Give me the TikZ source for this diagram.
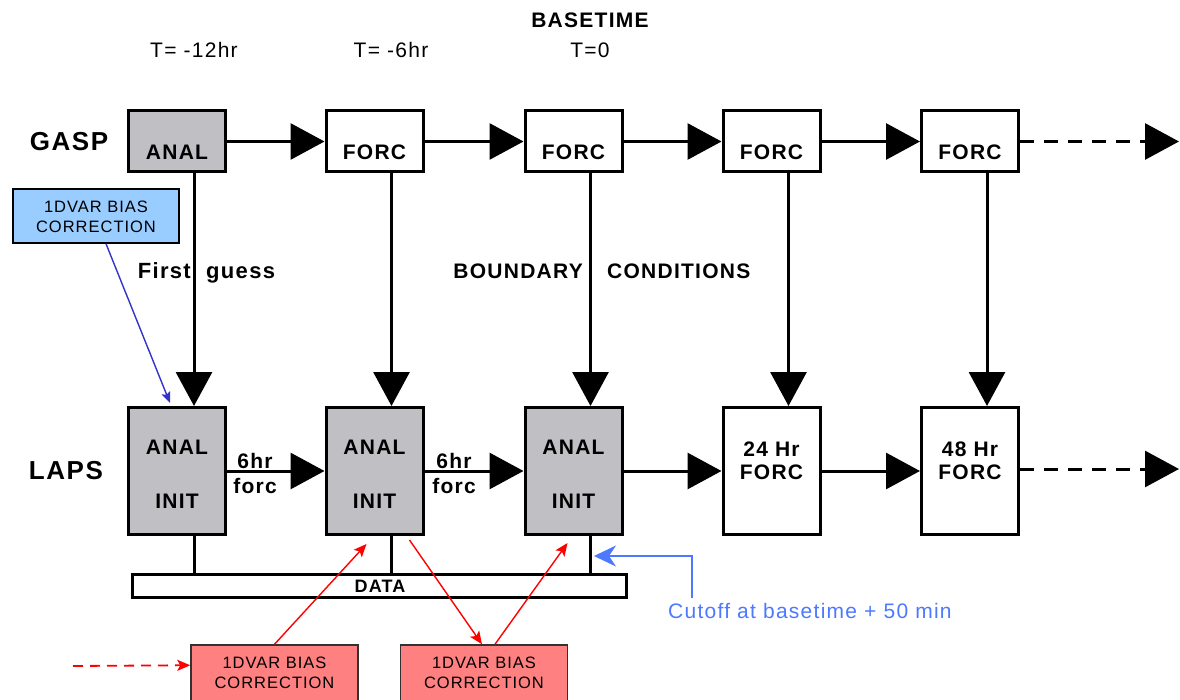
\documentclass[tikz,border=0pt]{standalone}
\usepackage{fontspec}
\setmainfont{Liberation Sans}[LetterSpace=6]
\usetikzlibrary{arrows.meta,calc}
\definecolor{boxgray}{RGB}{192,192,196}
\definecolor{lblue}{RGB}{153,204,255}
\definecolor{lred}{RGB}{255,128,128}
\definecolor{dblue}{RGB}{51,51,204}
\definecolor{cblue}{RGB}{77,121,255}
\definecolor{rborder}{RGB}{50,50,50}
\tikzset{
  gbox/.style={draw=black, line width=3pt, minimum width=97pt, minimum height=61pt, inner sep=0pt},
  lbox/.style={draw=black, line width=3pt, minimum width=97pt, minimum height=127pt, inner sep=0pt},
  shade/.style={fill=boxgray},
  arr/.style={line width=3pt, -{Triangle[length=34pt,width=36pt]}},
  darr/.style={arr, dash pattern=on 14pt off 10pt},
  plain/.style={line width=3pt},
  btext/.style={font=\fontsize{21}{23}\selectfont\bfseries, inner sep=0pt},
  rtext/.style={font=\fontsize{21}{23}\selectfont, inner sep=0pt},
  bigtext/.style={font=\fontsize{26}{28}\selectfont\bfseries, inner sep=0pt},
  smalltext/.style={font=\fontsize{16.5}{20}\selectfont, inner sep=0pt, align=center},
  biasbox/.style={draw=rborder, line width=1.5pt, minimum width=167pt, inner sep=0pt},
  redarr/.style={draw=red, line width=1.4pt, -{Stealth[length=13pt,width=11pt,inset=3pt]}},
  bluearr/.style={draw=dblue, line width=1.4pt, -{Stealth[length=11pt,width=9pt,inset=2pt]}},
  cutarr/.style={draw=cblue, line width=2pt, -{Stealth[length=22pt,width=21pt,inset=7pt]}},
}
\begin{document}
\begin{tikzpicture}[x=1pt,y=-1pt]
\fill[white] (0,0) rectangle (1180,700);
\useasboundingbox (0,0) rectangle (1180,700);

% top labels
\node[btext] (bt) at (590,20) {BASETIME};
\node[rtext] (t12) at (194,50) {T= -12hr};
\node[rtext] (t6) at (391,50) {T= -6hr};
\node[rtext] (t0) at (590,50) {T=0};

% row labels
\node[bigtext] (gasp) at (69,142) {GASP};
\node[bigtext] (laps) at (66,471) {LAPS};

% GASP row
\node[gbox,shade] (g1) at (177,141.5) {};
\node[gbox] (g2) at (374.5,141.5) {};
\node[gbox] (g3) at (573.5,141.5) {};
\node[gbox] (g4) at (771.5,141.5) {};
\node[gbox] (g5) at (970,141.5) {};
\node[btext] (g1t) at (177,152) {ANAL};
\node[btext] (g2t) at (374.5,152) {FORC};
\node[btext] (g3t) at (573.5,152) {FORC};
\node[btext] (g4t) at (771.5,152) {FORC};
\node[btext] (g5t) at (970,152) {FORC};

% LAPS row
\node[lbox,shade] (l1) at (177,471) {};
\node[lbox,shade] (l2) at (374.5,471) {};
\node[lbox,shade] (l3) at (573.5,471) {};
\node[lbox] (l4) at (771.5,471) {};
\node[lbox] (l5) at (970,471) {};
\node[btext] (l1a) at (177,447) {ANAL};
\node[btext] (l1b) at (177,501) {INIT};
\node[btext] (l2a) at (374.5,447) {ANAL};
\node[btext] (l2b) at (374.5,501) {INIT};
\node[btext] (l3a) at (573.5,447) {ANAL};
\node[btext] (l3b) at (573.5,501) {INIT};
\node[btext, align=center] (l4t) at (771.5,461) {24 Hr\\FORC};
\node[btext, align=center] (l5t) at (970,461) {48 Hr\\FORC};

% GASP horizontal arrows
\draw[arr] (g1.east) -- (g2.west);
\draw[arr] (g2.east) -- (g3.west);
\draw[arr] (g3.east) -- (g4.west);
\draw[arr] (g4.east) -- (g5.west);
\coordinate (gend) at (1179,141.5);
\draw[darr] (g5.east) -- (gend);

% LAPS horizontal arrows
\draw[arr] (l1.east) -- (l2.west);
\draw[arr] (l2.east) -- (l3.west);
\draw[arr] (l3.east) -- (l4.west);
\draw[arr] (l4.east) -- (l5.west);
\coordinate (lend) at (1179,469);
\draw[darr] (l5.east |- lend) -- (lend);

\node[btext] (f1a) at (255,461) {6hr};
\node[btext] (f1b) at (255,486) {forc};
\node[btext] (f2a) at (454,461) {6hr};
\node[btext] (f2b) at (454,486) {forc};

% vertical arrows
\foreach \i in {1,...,5}{
  \draw[arr] ($(g\i.south west)+(67,0)$) -- ($(l\i.north west)+(67,0)$);
}

% labels on verticals
\node[btext, anchor=base east, font=\fontsize{22}{24}\selectfont\bfseries] (fg1) at (191,279) {First};
\node[btext, anchor=base west, font=\fontsize{22}{24}\selectfont\bfseries] (fg2) at (206,279) {guess};
\node[btext, anchor=base east] (bc1) at (583,278.5) {BOUNDARY};
\node[btext, anchor=base west] (bc2) at (607,278.5) {CONDITIONS};

% DATA bar
\node[draw=black, line width=3pt, minimum width=494pt, minimum height=23pt, inner sep=0pt] (data) at (379.5,586) {};
\node[btext, font=\fontsize{18}{20}\selectfont\bfseries] (datat) at (380,586.5) {DATA};
\coordinate (l1d) at ($(l1.south west)+(67,0)$);
\coordinate (l2d) at ($(l2.south west)+(67,0)$);
\coordinate (l3d) at ($(l3.south west)+(67,0)$);
\draw[plain] (l1d) -- (l1d |- data.north);
\draw[plain] (l2d) -- (l2d |- data.north);
\draw[plain] (l3d) -- (l3d |- data.north);

% blue bias box
\node[draw=black, line width=1.5pt, fill=lblue, minimum width=166pt, minimum height=54pt, inner sep=0pt] (bb) at (96,216) {};
\node[smalltext] (bbt) at (96,217) {1DVAR BIAS\\CORRECTION};
\draw[bluearr] ($(bb.south)+(10,0)$) -- ($(l1.north west)+(43,-3)$);

% red bias boxes
\node[biasbox, fill=lred, minimum height=70pt] (ra) at (274.5,680) {};
\node[smalltext] (rat) at (274.5,673) {1DVAR BIAS\\CORRECTION};
\node[biasbox, fill=lred, minimum height=70pt] (rb) at (484,680) {};
\node[smalltext] (rbt) at (484,673) {1DVAR BIAS\\CORRECTION};

\coordinate (din) at (73,666);
\draw[redarr, line width=1.8pt, dash pattern=on 10pt off 7pt] (din) -- ($(ra.north west)+(0,21)$);
\draw[redarr] (ra.north) -- ($(l2.south)+(-8,8)$);
\draw[redarr] ($(l2.south)+(35,4)$) -- ($(rb.north)+(-2,0)$);
\draw[redarr] ($(rb.north)+(11,0)$) -- ($(l3.south)+(-6,7)$);

% cutoff
\node[inner sep=0pt, text=cblue, font=\fontsize{21}{23}\selectfont, anchor=west] (cut) at (668,611) {Cutoff at basetime + 50 min};
\coordinate (cutc) at (692,598);
\coordinate (ctip) at (594,556);
\draw[cutarr] (cutc) |- (ctip);
\end{tikzpicture}
\end{document}
